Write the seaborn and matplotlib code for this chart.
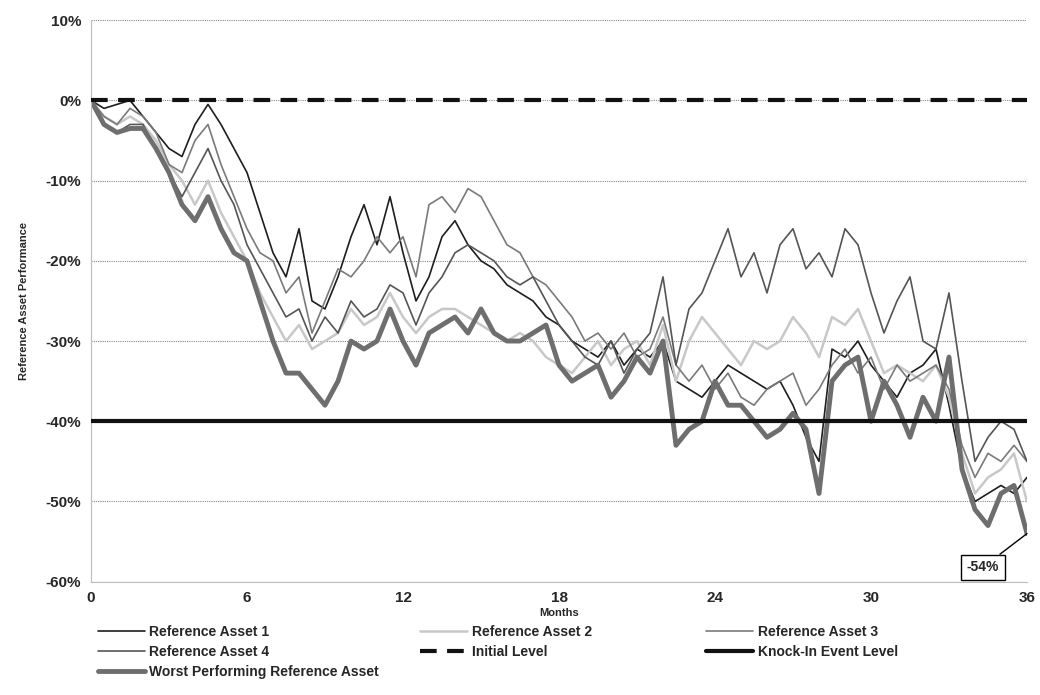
import numpy as np
import pandas as pd
import matplotlib
matplotlib.use("Agg")
import matplotlib.pyplot as plt
import seaborn as sns

# ---- data (percent, every half month) ----
months = [i * 0.5 for i in range(73)]

asset1 = [0, -1, -0.5, 0, -2, -4, -6, -7, -3, -0.5, -3, -6, -9, -14, -19, -22, -16, -25,
          -26, -22, -17, -13, -18, -12, -19, -25, -22, -17, -15, -18, -20, -21, -23, -24,
          -25, -27, -28, -30, -31, -32, -30, -33, -31, -32, -30, -35, -36, -37, -35, -33,
          -34, -35, -36, -35, -38, -42, -45, -31, -32, -30, -33, -35, -37, -34, -33, -31,
          -38, -46, -50, -49, -48, -49, -47]
asset2 = [0, -2, -3, -2, -3, -5, -8, -10, -13, -10, -14, -17, -20, -24, -27, -30, -28, -31,
          -30, -29, -26, -28, -27, -24, -27, -29, -27, -26, -26, -27, -28, -29, -30, -29,
          -30, -32, -33, -34, -32, -30, -33, -31, -30, -33, -28, -35, -30, -27, -29, -31,
          -33, -30, -31, -30, -27, -29, -32, -27, -28, -26, -30, -34, -33, -34, -35, -33,
          -37, -44, -49, -47, -46, -44, -50]
asset3 = [0, -2, -3, -1, -2, -4, -8, -9, -5, -3, -8, -12, -16, -19, -20, -24, -22, -29,
          -25, -21, -22, -20, -17, -19, -17, -22, -13, -12, -14, -11, -12, -15, -18, -19,
          -22, -23, -25, -27, -30, -29, -31, -29, -32, -31, -27, -33, -35, -33, -36, -34,
          -37, -38, -36, -35, -34, -38, -36, -33, -31, -34, -32, -36, -33, -35, -34, -33,
          -36, -43, -47, -44, -45, -43, -45]
asset4 = [0, -3, -4, -3, -3, -6, -9, -12, -9, -6, -10, -13, -18, -21, -24, -27, -26, -30,
          -27, -29, -25, -27, -26, -23, -24, -28, -24, -22, -19, -18, -19, -20, -22, -23,
          -22, -25, -28, -30, -32, -33, -30, -34, -31, -29, -22, -33, -26, -24, -20, -16,
          -22, -19, -24, -18, -16, -21, -19, -22, -16, -18, -24, -29, -25, -22, -30, -31,
          -24, -35, -45, -42, -40, -41, -45]
worst = [0, -3, -4, -3.5, -3.5, -6, -9, -13, -15, -12, -16, -19, -20, -25, -30, -34, -34, -36,
         -38, -35, -30, -31, -30, -26, -30, -33, -29, -28, -27, -29, -26, -29, -30, -30,
         -29, -28, -33, -35, -34, -33, -37, -35, -32, -34, -30, -43, -41, -40, -35, -38,
         -38, -40, -42, -41, -39, -41, -49, -35, -33, -32, -40, -35, -38, -42, -37, -40,
         -32, -46, -51, -53, -49, -48, -54]

series_names = ["Reference Asset 1", "Reference Asset 2", "Reference Asset 3",
                "Reference Asset 4", "Worst Performing Reference Asset"]
initial_level = 0
knock_in_level = -40
final_label = "-54%"

df = pd.DataFrame({"Months": months, series_names[0]: asset1, series_names[1]: asset2,
                   series_names[2]: asset3, series_names[3]: asset4, series_names[4]: worst})
long = df.melt(id_vars="Months", var_name="Series", value_name="Perf")

sns.set_style("white")
plt.rcParams["font.family"] = ["Liberation Sans", "DejaVu Sans"]

fig = plt.figure(figsize=(10.4, 6.95), dpi=100)
ax = fig.add_axes([0.0875, 0.163, 0.9, 0.808])

styles = {
    series_names[0]: ("#1e1e1e", 1.2),
    series_names[1]: ("#c8c8c8", 1.8),
    series_names[2]: ("#7a7a7a", 1.2),
    series_names[3]: ("#555555", 1.2),
    series_names[4]: ("#6e6e6e", 3.5),
}

handles = {}
for name in series_names[:4]:
    col, lw = styles[name]
    sns.lineplot(data=long[long.Series == name], x="Months", y="Perf", color=col,
                 linewidth=lw, ax=ax, legend=False)
    handles[name] = ax.lines[-1]
h_init = ax.axhline(initial_level, color="#111111", lw=3, ls=(0, (4, 2.5)), zorder=3)
h_ki = ax.axhline(knock_in_level, color="#111111", lw=3, zorder=3)
col, lw = styles[series_names[4]]
sns.lineplot(data=long[long.Series == series_names[4]], x="Months", y="Perf", color=col,
             linewidth=lw, ax=ax, legend=False)
handles[series_names[4]] = ax.lines[-1]

ax.set_xlim(0, 36)
ax.set_ylim(-60, 10)
ax.set_xticks(range(0, 37, 6))
ax.set_yticks(range(-60, 11, 10))
ax.set_yticklabels([f"{v}%" for v in range(-60, 11, 10)])
ax.yaxis.grid(True, color="#888888", ls=(0, (1, 1)), lw=0.8)
for lbl in ax.get_xticklabels() + ax.get_yticklabels():
    lbl.set_fontweight("bold")
    lbl.set_fontsize(11)
ax.set_xlabel("Months", fontsize=8, fontweight="bold", labelpad=2)
ax.set_ylabel("Reference Asset Performance", fontsize=8, fontweight="bold", labelpad=12)
for s in ["top", "right"]:
    ax.spines[s].set_visible(False)
ax.spines["left"].set_color("#bbbbbb")
ax.spines["bottom"].set_color("#bbbbbb")

ax.annotate(final_label, xy=(36, worst[-1]), xytext=(34.3, -58.2),
            fontsize=10, fontweight="bold", ha="center", va="center",
            bbox=dict(boxstyle="square,pad=0.4", fc="white", ec="black", lw=1),
            arrowprops=dict(arrowstyle="-", color="black", lw=1, shrinkA=0, shrinkB=0))

# three legend columns at fixed positions
columns = [
    (0.09, [handles[series_names[0]], handles[series_names[3]], handles[series_names[4]]],
     [series_names[0], series_names[3], series_names[4]]),
    (0.40, [handles[series_names[1]], h_init], [series_names[1], "Initial Level"]),
    (0.675, [handles[series_names[2]], h_ki], [series_names[2], "Knock-In Event Level"]),
]
for xpos, hs, ls in columns:
    fig.legend(hs, ls, loc="upper left", bbox_to_anchor=(xpos, 0.107),
               ncol=1, frameon=False, prop={"weight": "bold", "size": 10},
               handlelength=3.4, handletextpad=0.3, labelspacing=0.45,
               borderaxespad=0, borderpad=0.3)

fig.savefig("out.png", dpi=100)
